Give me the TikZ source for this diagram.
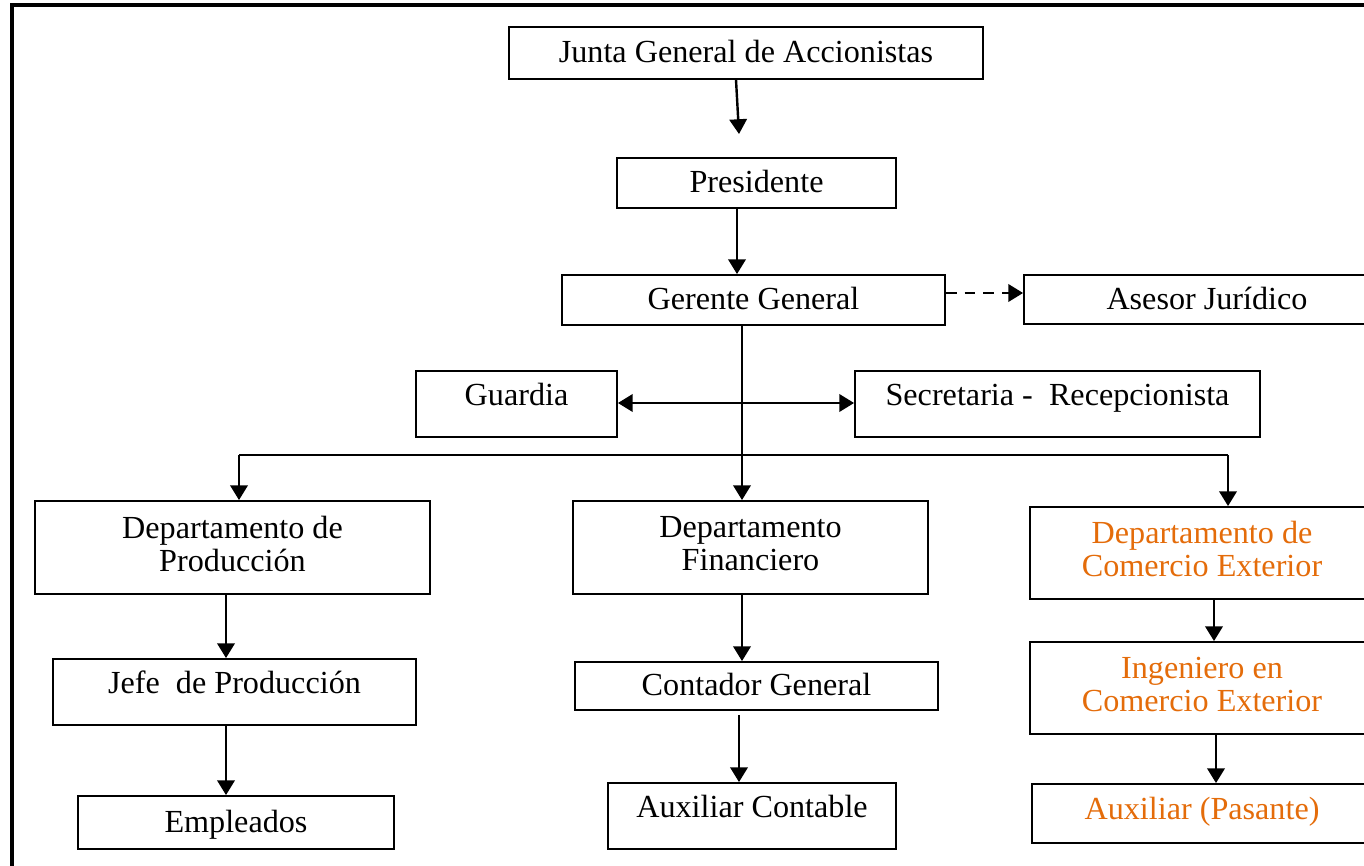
\documentclass[tikz,border=0pt]{standalone}
\usepackage{fontspec}
\setmainfont{Liberation Serif}
\usetikzlibrary{arrows.meta,calc}
\definecolor{ceorange}{RGB}{228,108,10}
\tikzset{
  box/.style={draw,line width=0.7pt,inner sep=0pt,align=center,
    font=\fontsize{12}{12.3}\selectfont,text height=8.2pt,text depth=0.8pt},
  sz/.style 2 args={minimum width=#1*0.373pt,minimum height=#2*0.373pt},
  multi/.style={text height=,text depth=3pt},
  lift/.style={text depth=#1},
  arr/.style={line width=0.9pt,-{Triangle[length=5.5pt,width=6.5pt]}},
  both/.style={line width=0.9pt,{Triangle[length=5.5pt,width=6.5pt]}-{Triangle[length=5.5pt,width=6.5pt]}}
}
\begin{document}
\begin{tikzpicture}[x=0.373pt,y=-0.373pt]
  \useasboundingbox (0,0) rectangle (1364,865);
  \draw[line width=1.3pt] (12,5) rectangle (1420,920);

  \node[box,sz={474}{52}] (junta) at (746,53) {Junta General de Accionistas};
  \node[box,sz={279}{50}] (pres) at (756.5,183) {Presidente};
  \node[box,sz={383}{50}] (gerente) at (753.5,300) {Gerente General};
  \node[box,sz={366}{49}] (asesor) at (1207,299.5) {Asesor Jurídico};
  \node[box,lift=6.8pt,sz={201}{66}] (guardia) at (516.5,404) {Guardia};
  \node[box,lift=6.8pt,sz={405}{66}] (secre) at (1057.5,404) {Secretaria -\ \ Recepcionista};

  \node[box,multi,sz={395}{93}] (dprod) at (232.5,547.5) {Departamento de\\Producción};
  \node[box,multi,sz={355}{93}] (dfin) at (750.5,547.5) {Departamento\\Financiero};
  \node[box,multi,text=ceorange,sz={344}{92}] (dce) at (1202,553) {Departamento de\\Comercio Exterior};

  \node[box,lift=6.8pt,sz={363}{66}] (jefe) at (234.5,692) {Jefe\ \ de Producción};
  \node[box,sz={363}{48}] (cont) at (756.5,686) {Contador General};
  \node[box,multi,text=ceorange,sz={344}{92}] (ing) at (1202,688) {Ingeniero en\\Comercio Exterior};

  \node[box,sz={316}{53}] (emp) at (236,822.5) {Empleados};
  \node[box,lift=6.8pt,sz={288}{66}] (auxc) at (752,816) {Auxiliar Contable};
  \node[box,lift=3.8pt,text=ceorange,sz={340}{59}] (auxp) at (1202,813.5) {Auxiliar (Pasante)};

  \coordinate (p1) at (739,134);
  \coordinate (tr) at (742,455);
  \coordinate (bl) at (239,455);
  \coordinate (br) at (1228,455);

  \draw[arr] ($(junta.south)+(-10,0)$) -- (p1);
  \draw[arr] ($(pres.south)+(-19.5,0)$) -- ($(gerente.north)+(-16.5,0)$);
  \draw[arr,dash pattern=on 4pt off 3pt] ($(gerente.east)+(0,-7)$) -- ($(asesor.west)+(0,-6.5)$);
  \draw[arr] (gerente.south -| tr) -- (dfin.north -| tr);
  \draw[both] ($(guardia.east)+(0,-1)$) -- ($(secre.west)+(0,-1)$);
  \draw[line width=0.9pt] (bl) -- (br);
  \draw[arr] (bl) -- (bl |- dprod.north);
  \draw[arr] (br) -- (br |- dce.north);

  \draw[arr] ($(dprod.south)+(-6.5,0)$) -- ($(jefe.north)+(-8.5,0)$);
  \draw[arr] ($(jefe.south)+(-8.5,0)$) -- ($(emp.north)+(-10,0)$);
  \draw[arr] ($(dfin.south)+(-8.5,0)$) -- ($(cont.north)+(-14.5,0)$);
  \draw[arr,shorten <=1.5pt] ($(cont.south)+(-17.5,0)$) -- ($(auxc.north)+(-13,0)$);
  \draw[arr] ($(dce.south)+(12,0)$) -- ($(ing.north)+(12,0)$);
  \draw[arr] ($(ing.south)+(14,0)$) -- ($(auxp.north)+(14,0)$);
\end{tikzpicture}
\end{document}
